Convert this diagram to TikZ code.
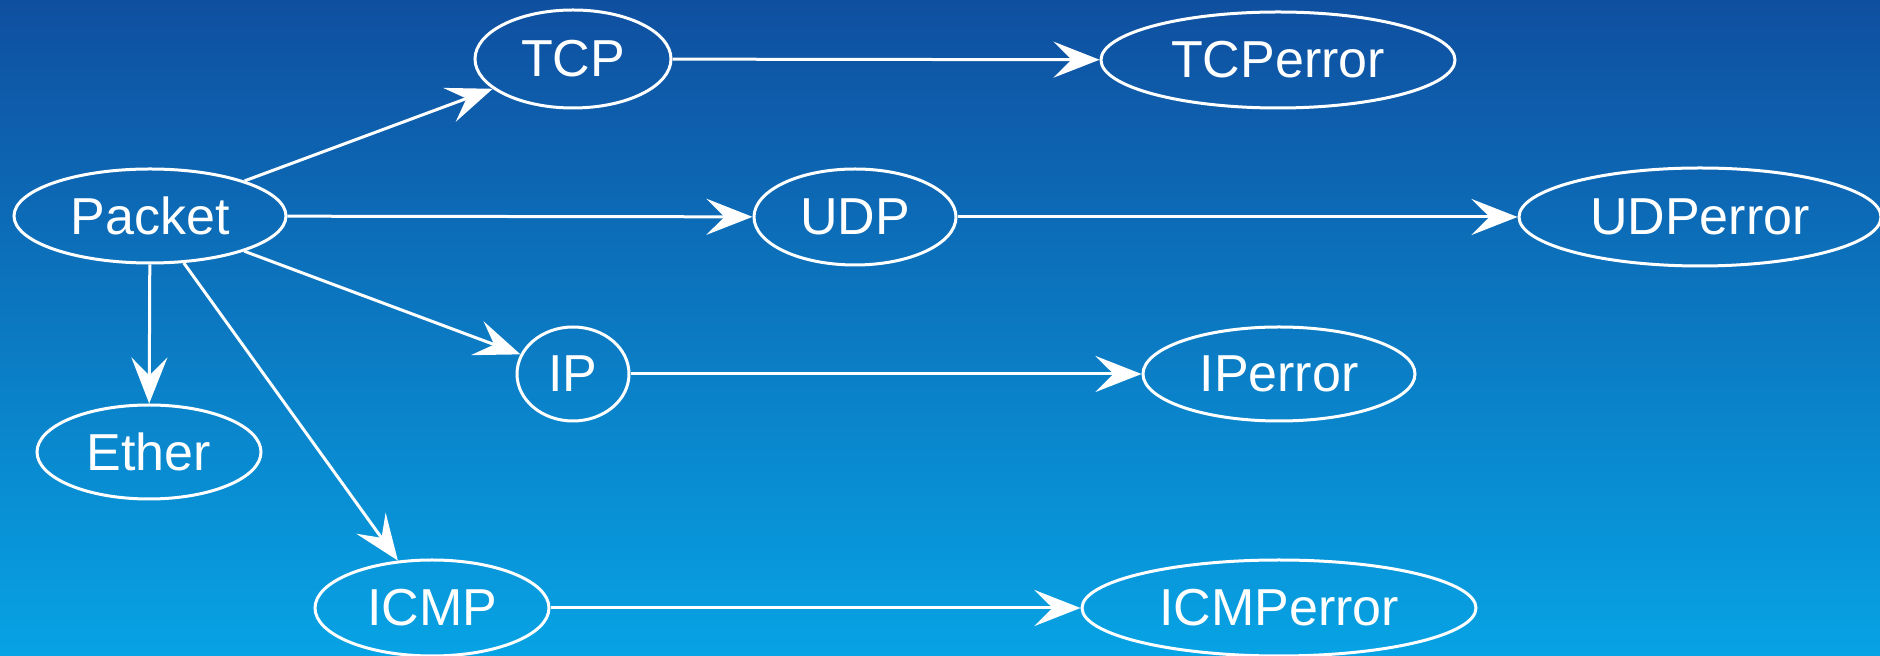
\documentclass[tikz,border=0pt]{standalone}
\usepackage{fontspec}
\setmainfont{Liberation Sans}
\usetikzlibrary{shapes.geometric,arrows.meta}
\definecolor{bgtop}{HTML}{0F4FA0}
\definecolor{bgbot}{HTML}{07A3E4}
\tikzset{
  ell/.style={ellipse, draw=white, line width=1.5pt, inner sep=0pt, text=white, font=\fontsize{26}{30}\selectfont},
  conn/.style={draw=white, line width=1.5pt, -{Stealth[length=23pt, width=18pt, inset=9pt]}}
}
\begin{document}
\begin{tikzpicture}[x=0.5pt,y=-0.5pt]
\shade[top color=bgtop, bottom color=bgbot] (0,0) rectangle (1880,656);
\useasboundingbox (0,0) rectangle (1880,656);
\node[ell, minimum width=136pt, minimum height=47pt] (Packet) at (150,216) {Packet};
\node[ell, minimum width=98pt, minimum height=49pt] (TCP) at (573,59) {TCP};
\node[ell, minimum width=177pt, minimum height=48pt] (TCPerror) at (1278,60) {TCPerror};
\node[ell, minimum width=101pt, minimum height=48pt] (UDP) at (855,217) {UDP};
\node[ell, minimum width=181pt, minimum height=49pt] (UDPerror) at (1700,217) {UDPerror};
\node[ell, minimum width=56pt, minimum height=47pt] (IP) at (573,374) {IP};
\node[ell, minimum width=136pt, minimum height=47pt] (IPerror) at (1279,374) {IPerror};
\node[ell, minimum width=112pt, minimum height=47pt] (Ether) at (149,452) {Ether};
\node[ell, minimum width=117pt, minimum height=48pt] (ICMP) at (432,608) {ICMP};
\node[ell, minimum width=197pt, minimum height=48pt] (ICMPerror) at (1279,608) {ICMPerror};
\draw[conn] (Packet) -- (TCP);
\draw[conn] (Packet) -- (UDP);
\draw[conn] (Packet) -- (IP);
\draw[conn] (Packet) -- (Ether);
\draw[conn] (Packet) -- (ICMP);
\draw[conn] (TCP) -- (TCPerror);
\draw[conn] (UDP) -- (UDPerror);
\draw[conn] (IP) -- (IPerror);
\draw[conn] (ICMP) -- (ICMPerror);
\end{tikzpicture}
\end{document}
